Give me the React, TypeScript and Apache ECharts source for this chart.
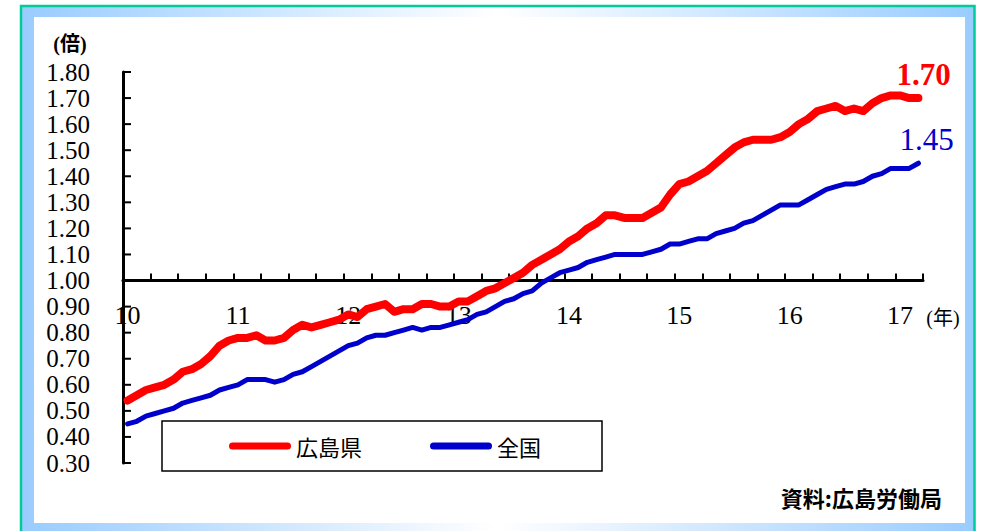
import React, { useEffect, useRef } from "react";
import * as echarts from "echarts";

// 月次（2010年1月〜2017年3月）
const years = [2010, 2011, 2012, 2013, 2014, 2015, 2016, 2017];
const lastMonthOfFinalYear = 3;
const categories: string[] = [];
for (const y of years) {
  const end = y === years[years.length - 1] ? lastMonthOfFinalYear : 12;
  for (let m = 1; m <= end; m++) categories.push(`${y}年${m}月`);
}

const seriesNames = ["広島県", "全国"];

const hiroshima = [
  0.54, 0.56, 0.58, 0.59, 0.60, 0.62, 0.65, 0.66, 0.68, 0.71, 0.75, 0.77,
  0.78, 0.78, 0.79, 0.77, 0.77, 0.78, 0.81, 0.83, 0.82, 0.83, 0.84, 0.85,
  0.87, 0.86, 0.89, 0.90, 0.91, 0.88, 0.89, 0.89, 0.91, 0.91, 0.90, 0.90,
  0.92, 0.92, 0.94, 0.96, 0.97, 0.99, 1.01, 1.03, 1.06, 1.08, 1.10, 1.12,
  1.15, 1.17, 1.20, 1.22, 1.25, 1.25, 1.24, 1.24, 1.24, 1.26, 1.28, 1.33,
  1.37, 1.38, 1.40, 1.42, 1.45, 1.48, 1.51, 1.53, 1.54, 1.54, 1.54, 1.55,
  1.57, 1.60, 1.62, 1.65, 1.66, 1.67, 1.65, 1.66, 1.65, 1.68, 1.70, 1.71,
  1.71, 1.70, 1.70,
];

const national = [
  0.45, 0.46, 0.48, 0.49, 0.50, 0.51, 0.53, 0.54, 0.55, 0.56, 0.58, 0.59,
  0.60, 0.62, 0.62, 0.62, 0.61, 0.62, 0.64, 0.65, 0.67, 0.69, 0.71, 0.73,
  0.75, 0.76, 0.78, 0.79, 0.79, 0.80, 0.81, 0.82, 0.81, 0.82, 0.82, 0.83,
  0.84, 0.85, 0.87, 0.88, 0.90, 0.92, 0.93, 0.95, 0.96, 0.99, 1.01, 1.03,
  1.04, 1.05, 1.07, 1.08, 1.09, 1.10, 1.10, 1.10, 1.10, 1.11, 1.12, 1.14,
  1.14, 1.15, 1.16, 1.16, 1.18, 1.19, 1.20, 1.22, 1.23, 1.25, 1.27, 1.29,
  1.29, 1.29, 1.31, 1.33, 1.35, 1.36, 1.37, 1.37, 1.38, 1.40, 1.41, 1.43,
  1.43, 1.43, 1.45,
];

const yTickValues = [0.3, 0.4, 0.5, 0.6, 0.7, 0.8, 0.9, 1.0, 1.1, 1.2, 1.3, 1.4, 1.5, 1.6, 1.7, 1.8];
const yMin = 0.3;
const yMax = 1.8;
const yStep = 0.1;
const xAxisCross = 1.0;

const yUnit = "(倍)";
const xUnit = "(年)";
const sourceText = "資料:広島労働局";

const SERIF = "'Liberation Serif', 'Times New Roman', serif";
const CJK = "'Noto Sans CJK JP', 'Noto Sans', sans-serif";

export default function App() {
  const ref = useRef<HTMLDivElement>(null);

  useEffect(() => {
    if (!ref.current) return;
    const chart = echarts.init(ref.current, undefined, { renderer: "svg" });

    const gridTop = 72;
    const gridBottom = 68;
    const gridHeight = 531 - gridTop - gridBottom;
    const crossOffset = -((xAxisCross - yMin) / (yMax - yMin)) * gridHeight;

    const capsule =
      "path://M3.5,0 L58.5,0 A3.5,3.5 0 0 1 58.5,7 L3.5,7 A3.5,3.5 0 0 1 3.5,0 Z";

    chart.setOption({
      animation: false,
      backgroundColor: "#ffffff",
      grid: { left: 123, right: 59, top: gridTop, bottom: gridBottom, containLabel: false },
      xAxis: {
        type: "category",
        data: categories,
        boundaryGap: true,
        position: "bottom",
        offset: crossOffset,
        axisLine: { show: true, lineStyle: { color: "#000", width: 3 } },
        axisTick: {
          show: true,
          inside: true,
          length: 7,
          interval: (i: number) => i % 3 === 0,
          lineStyle: { color: "#000", width: 2 },
        },
        axisLabel: {
          interval: (_i: number, v: string) => v.endsWith("年1月"),
          formatter: (v: string) => v.slice(2, 4),
          fontSize: 26,
          fontFamily: SERIF,
          color: "#000",
          margin: 22,
        },
        splitLine: { show: false },
      },
      yAxis: {
        type: "value",
        min: yMin,
        max: yMax,
        interval: yStep,
        axisLine: { show: true, onZero: false, lineStyle: { color: "#000", width: 3 } },
        axisTick: { show: false },
        axisLabel: {
          show: true,
          showMinLabel: true,
          showMaxLabel: true,
          formatter: (v: number) => v.toFixed(2),
          fontSize: 25,
          lineHeight: 25,
          fontFamily: SERIF,
          color: "#000",
          margin: 33,
        },
        splitLine: { show: false },
      },
      legend: {
        left: 224,
        top: 430,
        itemWidth: 62,
        itemHeight: 7,
        itemGap: 68,
        icon: capsule,
        textStyle: { fontSize: 22, fontFamily: CJK, color: "#000" },
        data: seriesNames,
        z: 5,
      },
      series: [
        {
          name: seriesNames[0],
          type: "line",
          data: hiroshima,
          color: "#ff0000",
          symbol: "none",
          lineStyle: { width: 8, color: "#ff0000", cap: "round", join: "round" },
          endLabel: {
            show: true,
            distance: 0,
            offset: [-22, -24],
            formatter: (p: any) => Number(p.value).toFixed(2),
            fontSize: 31,
            fontWeight: "bold",
            fontFamily: SERIF,
            color: "#ff0000",
          },
          z: 3,
        },
        {
          name: seriesNames[1],
          type: "line",
          data: national,
          color: "#0000cc",
          symbol: "none",
          lineStyle: { width: 5, color: "#0000cc", cap: "round", join: "round" },
          endLabel: {
            show: true,
            distance: 0,
            offset: [-19, -24],
            formatter: (p: any) => Number(p.value).toFixed(2),
            fontSize: 31,
            fontFamily: SERIF,
            color: "#0000cc",
          },
          z: 3,
        },
        {
          name: "yTicks",
          type: "custom",
          silent: true,
          clip: false,
          z: 4,
          data: yTickValues.map((v) => [0, v]),
          encode: { x: 0, y: 1 },
          renderItem: (_params: any, api: any) => {
            const pt = api.coord([api.value(0), api.value(1)]);
            const band = api.size([1, 0])[0];
            const x0 = pt[0] - band / 2;
            return {
              type: "line",
              shape: { x1: x0, y1: pt[1], x2: x0 + 8, y2: pt[1] },
              style: { stroke: "#000", lineWidth: 2 },
            };
          },
        },
      ],
      graphic: [
        {
          type: "rect",
          z: -20,
          silent: true,
          shape: { x: 21, y: 6, width: 953.5, height: 540 },
          style: {
            fill: new echarts.graphic.LinearGradient(0, 0, 1, 0, [
              { offset: 0, color: "#99ccff" },
              { offset: 0.5, color: "#ffffff" },
              { offset: 1, color: "#99ccff" },
            ]),
            stroke: "#00cc99",
            lineWidth: 2.5,
          },
        },
        {
          type: "rect",
          z: -19,
          silent: true,
          shape: { x: 34, y: 17, width: 931, height: 506 },
          style: { fill: "#ffffff" },
        },
        {
          type: "rect",
          z: 1,
          silent: true,
          shape: { x: 162, y: 421, width: 440, height: 50 },
          style: { fill: "#ffffff", stroke: "#000", lineWidth: 1.5 },
        },
        {
          type: "text",
          z: 5,
          x: 70,
          y: 44,
          style: {
            text: yUnit,
            fontSize: 20,
            fontFamily: `'Liberation Serif', 'Noto Sans CJK JP', serif`,
            fontWeight: "bold",
            fill: "#000",
            align: "center",
            verticalAlign: "middle",
          },
        },
        {
          type: "text",
          z: 5,
          x: 943,
          y: 318,
          style: {
            text: xUnit,
            fontSize: 20,
            fontFamily: `'Liberation Serif', 'Noto Sans CJK JP', serif`,
            fill: "#000",
            align: "center",
            verticalAlign: "middle",
          },
        },
        {
          type: "text",
          z: 5,
          x: 942,
          y: 497,
          style: {
            text: sourceText,
            fontSize: 22,
            fontFamily: CJK,
            fontWeight: "bold",
            fill: "#000",
            align: "right",
            verticalAlign: "middle",
          },
        },
      ],
    });

    return () => chart.dispose();
  }, []);

  return (
    <div
      ref={ref}
      style={{ position: "fixed", left: 0, top: 0, width: 982, height: 531 }}
    />
  );
}
